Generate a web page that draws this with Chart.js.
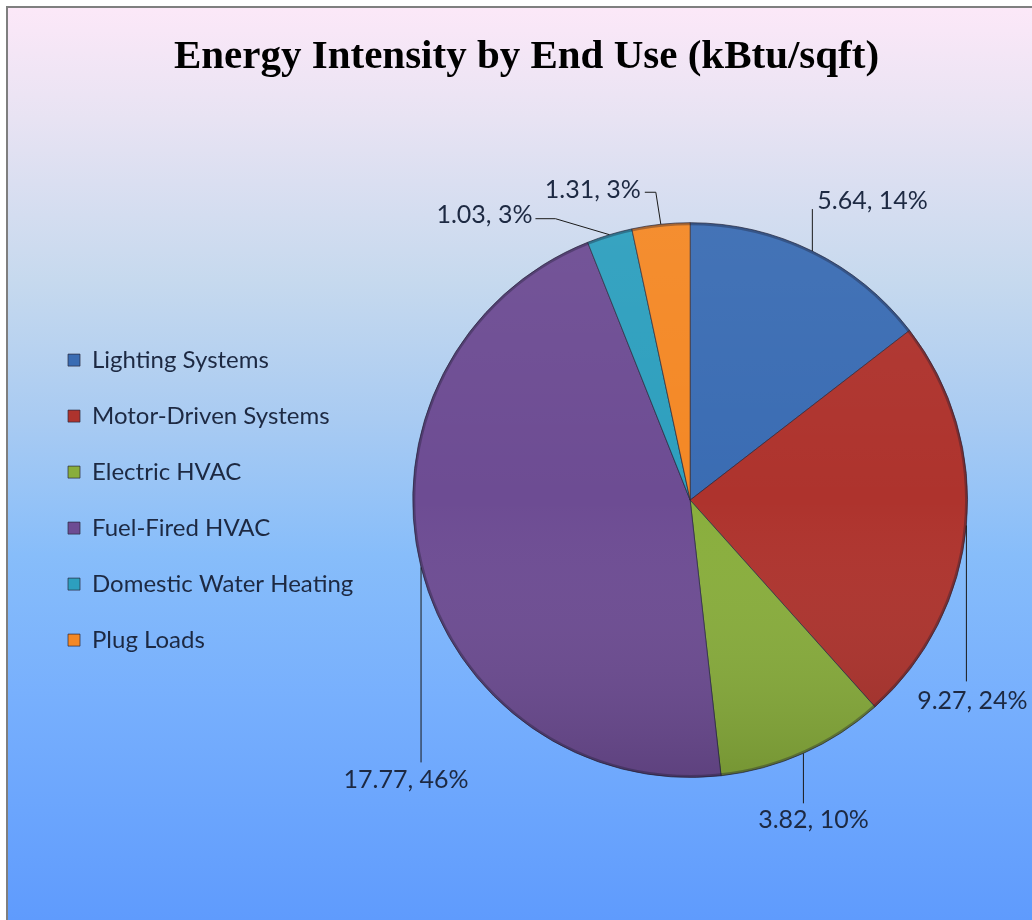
<!DOCTYPE html>
<html>
<head>
<meta charset="utf-8">
<title>Energy Intensity by End Use</title>
<script src="https://cdn.jsdelivr.net/npm/chart.js@4.4.0/dist/chart.umd.min.js"></script>
<style>
  html, body { margin: 0; padding: 0; background: #fff; }
  #wrap { width: 1032px; height: 920px; }
</style>
</head>
<body>
<div id="wrap"><canvas id="chart"></canvas></div>
<script>
// values
const categories = ['Lighting Systems', 'Motor-Driven Systems', 'Electric HVAC',
                    'Fuel-Fired HVAC', 'Domestic Water Heating', 'Plug Loads'];
const intensity = [5.64, 9.27, 3.82, 17.77, 1.03, 1.31];
const percentShown = [14, 24, 10, 46, 3, 3];
const sliceColors = ['#3a6cb3', '#ae332d', '#89ae3c', '#6d4c93', '#2d9fbe', '#f48825'];

// where each data label sits, relative to the slice's outer mid point
const labelSpots = [
  { elbow: [0, -42], text: [5, -50], align: 'left' },
  { elbow: [0, 156], text: [6, 176], align: 'center' },
  { elbow: [0, 50], text: [10, 67], align: 'center' },
  { elbow: [0, 195], text: [-15, 213], align: 'center' },
  { elbow: [-54, -16], end: [-74, -16], text: [-77, -20], align: 'right' },
  { elbow: [-5, -32], end: [-16, -32], text: [-20, -34], align: 'right' }
];

const textFont = 'Lato, "Open Sans", sans-serif';
const textColor = '#1d2942';

const backdrop = {
  id: 'backdrop',
  beforeDraw(chart) {
    const ctx = chart.ctx, w = chart.width, h = chart.height;
    ctx.save();
    ctx.fillStyle = '#ffffff';
    ctx.fillRect(0, 0, w, h);
    const g = ctx.createLinearGradient(0, 8, 0, h);
    g.addColorStop(0, '#fce8f8');
    g.addColorStop(0.12, '#e8e3f3');
    g.addColorStop(0.3, '#c6d9ee');
    g.addColorStop(0.45, '#a9cbf2');
    g.addColorStop(0.6, '#87bdfa');
    g.addColorStop(0.75, '#78b0fd');
    g.addColorStop(1, '#5f9bfd');
    ctx.fillStyle = g;
    ctx.fillRect(8, 8, w - 8, h - 8);
    ctx.strokeStyle = '#7f7f7f';
    ctx.lineWidth = 2;
    ctx.beginPath();
    ctx.moveTo(7, h);
    ctx.lineTo(7, 7);
    ctx.lineTo(w, 7);
    ctx.stroke();
    ctx.restore();
  }
};

// keep the legend centred on the pie vertically
const legendCentre = {
  id: 'legendCentre',
  afterLayout(chart) {
    const lg = chart.legend, ca = chart.chartArea;
    if (!lg) return;
    const shift = (ca.top + ca.bottom) / 2 - (lg.top + lg.bottom) / 2;
    lg.top += shift;
    lg.bottom += shift;
  }
};

// soft shading on the pie, a bit like the bevel in the original
const pieShade = {
  id: 'pieShade',
  afterDatasetsDraw(chart) {
    const arc = chart.getDatasetMeta(0).data[0];
    if (!arc) return;
    const ctx = chart.ctx, r = arc.outerRadius;
    ctx.save();
    ctx.beginPath();
    ctx.arc(arc.x, arc.y, r, 0, Math.PI * 2);
    ctx.clip();
    const g = ctx.createLinearGradient(0, arc.y - r, 0, arc.y + r);
    g.addColorStop(0, 'rgba(255,255,255,0.05)');
    g.addColorStop(0.5, 'rgba(255,255,255,0)');
    g.addColorStop(1, 'rgba(0,0,0,0.14)');
    ctx.fillStyle = g;
    ctx.fillRect(arc.x - r, arc.y - r, 2 * r, 2 * r);
    // darker rim
    ctx.beginPath();
    ctx.arc(arc.x, arc.y, r - 1, 0, Math.PI * 2);
    ctx.strokeStyle = 'rgba(30,30,50,0.35)';
    ctx.lineWidth = 3;
    ctx.stroke();
    ctx.restore();
  }
};

const dataLabels = {
  id: 'dataLabels',
  afterDraw(chart) {
    const ctx = chart.ctx;
    const values = chart.data.datasets[0].data;
    ctx.save();
    ctx.font = '25px ' + textFont;
    ctx.fillStyle = textColor;
    ctx.strokeStyle = '#1a1a1a';
    ctx.lineWidth = 1;
    chart.getDatasetMeta(0).data.forEach((arc, i) => {
      const spot = labelSpots[i];
      const mid = (arc.startAngle + arc.endAngle) / 2;
      const ax = arc.x + Math.cos(mid) * arc.outerRadius;
      const ay = arc.y + Math.sin(mid) * arc.outerRadius;
      ctx.beginPath();
      ctx.moveTo(ax, ay);
      ctx.lineTo(ax + spot.elbow[0], ay + spot.elbow[1]);
      if (spot.end) ctx.lineTo(ax + spot.end[0], ay + spot.end[1]);
      ctx.stroke();
      ctx.textAlign = spot.align;
      ctx.textBaseline = 'middle';
      ctx.fillText(values[i].toFixed(2) + ', ' + percentShown[i] + '%', ax + spot.text[0], ay + spot.text[1]);
    });
    ctx.restore();
  }
};

new Chart(document.getElementById('chart'), {
  type: 'pie',
  data: {
    labels: categories,
    datasets: [{
      data: intensity,
      backgroundColor: sliceColors,
      borderColor: 'rgba(40,40,60,0.7)',
      borderWidth: 1
    }]
  },
  options: {
    responsive: true,
    maintainAspectRatio: false,
    animation: false,
    layout: { padding: { left: 36, right: 15, top: 0, bottom: 142 } },
    plugins: {
      title: {
        display: true,
        text: 'Energy Intensity by End Use (kBtu/sqft)',
        color: '#000',
        font: { family: '"Liberation Serif", "DejaVu Serif", serif', size: 41, weight: 'bold', lineHeight: 1.2 },
        padding: { top: 33, bottom: 140 }
      },
      legend: {
        position: 'left',
        labels: {
          color: textColor,
          font: { family: textFont, size: 24 },
          boxWidth: 12,
          boxHeight: 12,
          padding: 32
        }
      },
      tooltip: { enabled: false }
    }
  },
  plugins: [backdrop, legendCentre, pieShade, dataLabels]
});
</script>
</body>
</html>
